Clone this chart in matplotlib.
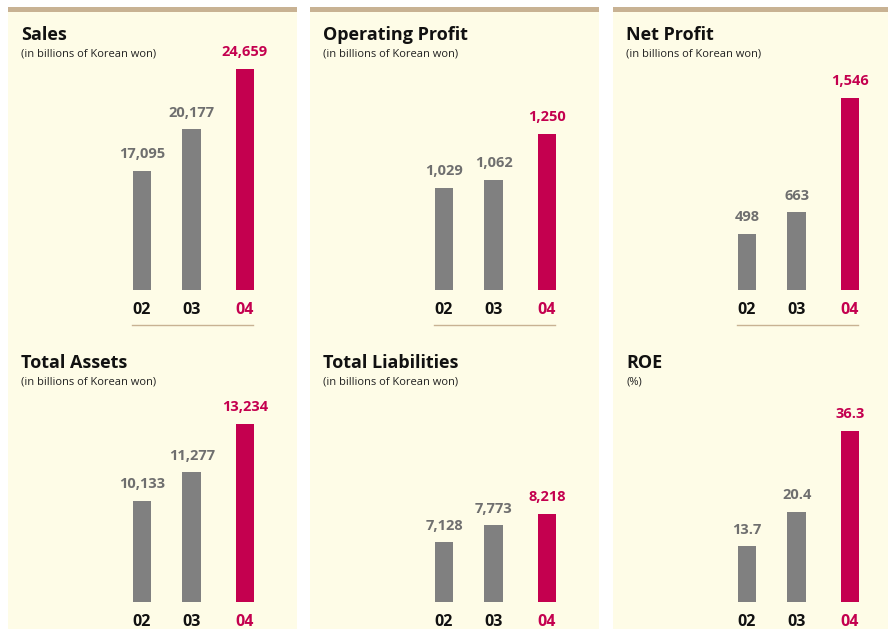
import numpy as np
import matplotlib.pyplot as plt
from matplotlib.patches import Rectangle
from matplotlib.lines import Line2D

plt.rcParams['font.family'] = ['Open Sans', 'DejaVu Sans']

# data
years = ["02", "03", "04"]
titles = ["Sales", "Operating Profit", "Net Profit", "Total Assets", "Total Liabilities", "ROE"]
units = ["(in billions of Korean won)"] * 5 + ["(%)"]
sales = [17095, 20177, 24659]
op_profit = [1029, 1062, 1250]
net_profit = [498, 663, 1546]
total_assets = [10133, 11277, 13234]
total_liab = [7128, 7773, 8218]
roe = [13.7, 20.4, 36.3]
series = [sales, op_profit, net_profit, total_assets, total_liab, roe]
# value axis limits (bars do not start at zero)
y_limits = [(8268, 26807), (612, 1633), (62.5, 1990), (6053, 16121), (4812, 14483), (2.73, 51.75)]

W, H = 888, 629
BG = "#FEFCE7"
TAN = "#C8B293"
GRAY = "#808080"
CRIMSON = "#C4004F"
VALGRAY = "#6F6F6F"

col_left = [8, 310, 613]
col_w = 289
row_base = [290, 602]
ax_h = 250
xpos = np.array([0, 1, 2.07])
unit_px = 49.7

fig = plt.figure(figsize=(W / 100, H / 100), dpi=100)
fig.patch.set_facecolor("white")


def fx(x):
	return x / W


def fy(y):
	return 1 - y / H


for c in col_left:
	fig.patches.append(Rectangle((fx(c), 0), col_w / W, fy(12), transform=fig.transFigure, facecolor=BG, edgecolor="none", zorder=-2))
	fig.patches.append(Rectangle((fx(c), fy(12)), col_w / W, 5 / H, transform=fig.transFigure, facecolor=TAN, edgecolor="none", zorder=-2))

for i, vals in enumerate(series):
	r, c = divmod(i, 3)
	left = col_left[c]
	base = row_base[r]
	ax = fig.add_axes([fx(left + 100), fy(base), 170 / W, ax_h / H])
	ax.set_zorder(2)
	ax.patch.set_alpha(0)
	for s in ax.spines.values():
		s.set_visible(False)
	ax.bar(xpos, vals, width=18.5 / unit_px, color=[GRAY, GRAY, CRIMSON], bottom=0)
	ax.set_xlim((100 - 134) / unit_px, (270 - 134) / unit_px)
	ax.set_ylim(*y_limits[i])
	ax.set_yticks([])
	ax.set_xticks(xpos)
	ax.set_xticklabels(years, fontsize=11.5, fontweight="bold")
	ax.tick_params(axis="x", length=0, pad=8.5)
	for lbl, col in zip(ax.get_xticklabels(), ["#111111", "#111111", CRIMSON]):
		lbl.set_color(col)
	for x, v, col in zip(xpos, vals, [VALGRAY, VALGRAY, CRIMSON]):
		txt = f"{v:.1f}" if isinstance(v, float) else f"{v:,}"
		ax.annotate(txt, (x, v), xytext=(0, 9), textcoords="offset points", ha="center", va="baseline",
			fontsize=10.5, fontweight="bold", color=col, annotation_clip=False)

	ty = 40 if r == 0 else 368
	fig.text(fx(left + 13), fy(ty), titles[i], fontsize=13, fontweight="bold", color="#111111", va="baseline")
	fig.text(fx(left + 13), fy(ty + 16), units[i], fontsize=8, color="#222222", va="baseline")

	if r == 0:
		fig.lines.append(Line2D([fx(left + 124), fx(left + 245)], [fy(325), fy(325)], transform=fig.transFigure, color=TAN, linewidth=1))

fig.savefig("out.png", dpi=100, facecolor=fig.get_facecolor())
